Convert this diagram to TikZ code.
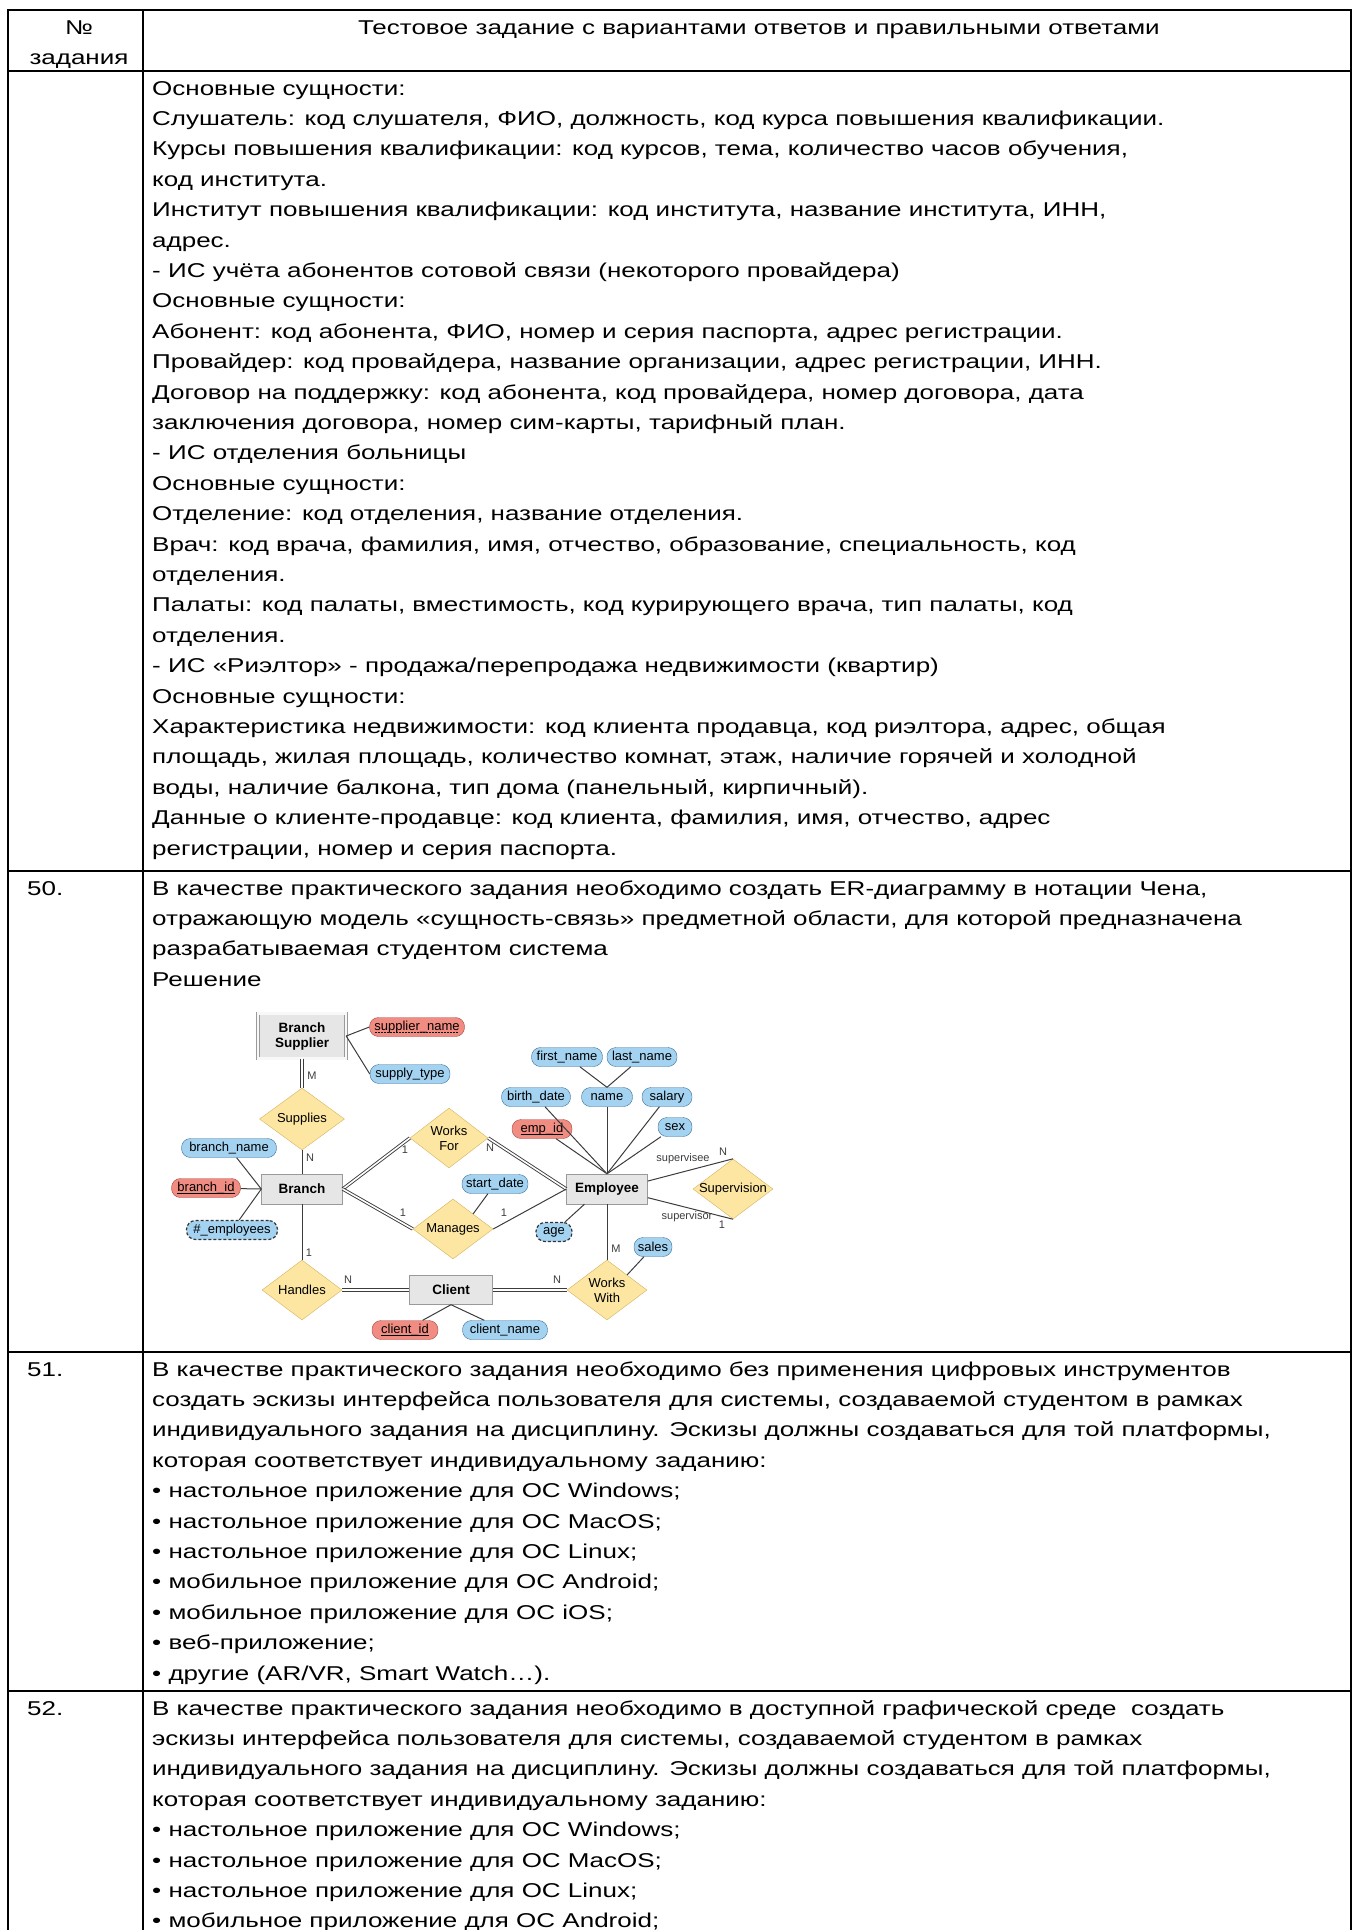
\documentclass[tikz,border=0pt]{standalone}
\usepackage{fontspec}
\setmainfont{Liberation Sans}
\newfontfamily\docfont[FakeStretch=1.30]{Liberation Sans}
\usetikzlibrary{shapes.geometric}
\definecolor{AttrBlue}{HTML}{A4D3F1}
\definecolor{AttrBlueLine}{HTML}{3C6E96}
\definecolor{KeyRed}{HTML}{F08C82}
\definecolor{KeyRedLine}{HTML}{A8473F}
\definecolor{RelYellow}{HTML}{FCE6A2}
\definecolor{RelLine}{HTML}{D6B35E}
\definecolor{EntGray}{HTML}{E6E6E6}
\definecolor{EntLine}{HTML}{9A9A9A}
\definecolor{LinkGray}{HTML}{3C3C3C}
% key underlines
\newcommand\keyul[1]{\setbox0\hbox{#1}\rlap{\raisebox{-2.2pt}{\rule{\wd0}{0.7pt}}}\box0}
\newcommand\partkeyul[1]{\setbox0\hbox{#1}\rlap{\raisebox{-2.2pt}{\leaders\hbox to 3pt{\hss\rule{1.8pt}{0.7pt}\hss}\hskip\wd0}}\box0}

\begin{document}
\begin{tikzpicture}[x=1pt,y=-1pt,
    grid/.style={line width=2pt,black},
    txt/.style={anchor=base west,inner sep=0pt,font=\docfont\fontsize{20}{24}\selectfont},
    entity/.style={draw=EntLine,fill=EntGray,minimum width=81pt,minimum height=30pt,inner sep=1pt,align=center,font=\bfseries\fontsize{13.5}{15}\selectfont},
    weakent/.style={entity,double=white!70!EntGray,double distance=2.5pt,minimum width=88pt,minimum height=45pt},
    attr/.style={draw=AttrBlueLine,fill=AttrBlue,rounded corners=9pt,minimum height=19pt,inner sep=0pt,font=\fontsize{13}{15}\selectfont},
    keyattr/.style={attr,draw=KeyRedLine,fill=KeyRed},
    derived/.style={attr,draw=black!80,line width=1.2pt,dash pattern=on 3pt off 2pt},
    rel/.style={diamond,draw=RelLine,fill=RelYellow,minimum width=80pt,minimum height=60pt,inner sep=0pt},
    reltxt/.style={inner sep=0pt,align=center,font=\fontsize{13}{15}\selectfont},
    link/.style={draw=LinkGray,line width=1pt},
    link2/.style={draw=LinkGray,line width=0.9pt,double=white,double distance=1.6pt},
    card/.style={inner sep=0pt,text=LinkGray,font=\fontsize{11}{13}\selectfont}]
  \useasboundingbox (0,0) rectangle (1357,1930);

  % table frame
  \draw[grid] (8,10) -- (1351,10);
  \foreach \y in {71,871,1352,1691}
    \draw[grid] (8,\y) -- (1351,\y);
  \foreach \x in {8,143,1351}
    \draw[grid] (\x,9) -- (\x,1930);

  % header
  \node[txt,anchor=base] (hnum) at (79,34) {№};
  \node[txt,anchor=base] (hzad) at (79,64) {задания};
  \node[txt,anchor=base east] (htitle) at (1160,34) {Тестовое задание с вариантами ответов и правильными ответами};

  % continuation of task 49
  \foreach \t [count=\i from 0] in {
    {Основные сущности:},
    {Слушатель: код слушателя, ФИО, должность, код курса повышения квалификации.},
    {Курсы повышения квалификации: код курсов, тема, количество часов обучения,},
    {код института.},
    {Институт повышения квалификации: код института, название института, ИНН,},
    {адрес.},
    {- ИС учёта абонентов сотовой связи (некоторого провайдера)},
    {Основные сущности:},
    {Абонент: код абонента, ФИО, номер и серия паспорта, адрес регистрации.},
    {Провайдер: код провайдера, название организации, адрес регистрации, ИНН.},
    {Договор на поддержку: код абонента, код провайдера, номер договора, дата},
    {заключения договора, номер сим-карты, тарифный план.},
    {- ИС отделения больницы},
    {Основные сущности:},
    {Отделение: код отделения, название отделения.},
    {Врач: код врача, фамилия, имя, отчество, образование, специальность, код},
    {отделения.},
    {Палаты: код палаты, вместимость, код курирующего врача, тип палаты, код},
    {отделения.},
    {- ИС «Риэлтор» - продажа/перепродажа недвижимости (квартир)},
    {Основные сущности:},
    {Характеристика недвижимости: код клиента продавца, код риэлтора, адрес, общая},
    {площадь, жилая площадь, количество комнат, этаж, наличие горячей и холодной},
    {воды, наличие балкона, тип дома (панельный, кирпичный).},
    {Данные о клиенте-продавце: код клиента, фамилия, имя, отчество, адрес},
    {регистрации, номер и серия паспорта.}}
    \node[txt] (t49-\i) at (152,{95+30.4*\i}) {\t};

  % task 50
  \node[txt] (n50) at (27,895) {50.};
  \foreach \t [count=\i from 0] in {
    {В качестве практического задания необходимо создать ER-диаграмму в нотации Чена,},
    {отражающую модель «сущность-связь» предметной области, для которой предназначена},
    {разрабатываемая студентом система},
    {Решение}}
    \node[txt] (t50-\i) at (152,{895+30.4*\i}) {\t};

  % ER diagram: entities
  \node[weakent] (bsup) at (302,1036) {Branch\\Supplier};
  \node[entity] (branch) at (302,1189) {Branch};
  \node[entity] (employee) at (607,1189) {Employee};
  \node[entity,minimum width=83pt,minimum height=29pt] (client) at (451,1290) {Client};

  % relationships
  \node[rel,minimum width=85pt,minimum height=62pt,label={[reltxt]center:Supplies}] (supplies) at (302,1119) {};
  \node[rel,minimum width=78pt,label={[reltxt]center:{Works\\For}}] (worksfor) at (449,1138) {};
  \node[rel,label={[reltxt]center:Manages}] (manages) at (453,1229) {};
  \node[rel,label={[reltxt]center:Handles}] (handles) at (302,1290) {};
  \node[rel,label={[reltxt]center:{Works\\With}}] (workswith) at (607,1290) {};
  \node[rel,label={[reltxt]center:Supervision}] (supervision) at (733,1189) {};

  % attributes
  \node[keyattr,minimum width=95pt] (suppliername) at (417,1027) {\partkeyul{supplier\_name}};
  \node[attr,minimum width=80pt] (supplytype) at (410,1074) {supply\_type};
  \node[attr,minimum width=95pt] (branchname) at (229,1148) {branch\_name};
  \node[keyattr,minimum width=69pt] (branchid) at (206,1188) {\keyul{branch\_id}};
  \node[derived,minimum width=91pt] (numemp) at (232,1230) {\#\_employees};
  \node[attr,minimum width=71pt] (firstname) at (567,1057) {first\_name};
  \node[attr,minimum width=70pt] (lastname) at (642,1057) {last\_name};
  \node[attr,minimum width=69pt] (birthdate) at (536,1097) {birth\_date};
  \node[attr,minimum width=51pt] (name) at (607,1097) {name};
  \node[attr,minimum width=50pt] (salary) at (667,1097) {salary};
  \node[keyattr,minimum width=60pt] (empid) at (542,1129) {\keyul{emp\_id}};
  \node[attr,minimum width=34pt] (sex) at (675,1127) {sex};
  \node[attr,minimum width=66pt] (startdate) at (495,1184) {start\_date};
  \node[derived,minimum width=36pt] (age) at (554,1232) {age};
  \node[attr,minimum width=38pt] (sales) at (653,1247) {sales};
  \node[keyattr,minimum width=66pt] (clientid) at (405,1330) {\keyul{client\_id}};
  \node[attr,minimum width=85pt] (clientname) at (505,1330) {client\_name};

  % connectors
  \draw[link] (bsup.east) -- (suppliername.west);
  \draw[link] (bsup.east) -- (supplytype.west);
  \draw[link2] (bsup.south) -- (supplies.north);
  \draw[link] (supplies.south) -- (branch.north);
  \foreach \a in {branchname,branchid,numemp}
    \draw[link] (\a) -- (branch.west);
  \draw[link2] (branch.east) -- (worksfor.west);
  \draw[link2] (branch.east) -- (manages.west);
  \draw[link2] (worksfor.east) -- (employee.west);
  \draw[link] (manages.east) -- (employee.west);
  \draw[link] (startdate) -- (manages.north east);
  \foreach \a in {firstname,lastname}
    \draw[link] (\a) -- (name.north);
  \foreach \a in {birthdate,name,salary,empid,sex}
    \draw[link] (\a) -- (employee.north);
  \draw[link] (age) -- (employee.214);
  \draw[link] (employee.south) -- (workswith.north);
  \draw[link] (sales) -- (workswith.north east);
  \draw[link] (employee.11) -- (supervision.north);
  \draw[link] (employee.-12) -- (supervision.south);
  \draw[link] (branch.south) -- (handles.north);
  \draw[link2] (handles.east) -- (client.west);
  \draw[link2] (client.east) -- (workswith.west);
  \draw[link] (client.south) -- (clientid);
  \draw[link] (client.south) -- (clientname);

  % cardinalities
  \node[card] (c-bs) at (312,1076) {M};
  \node[card] (c-br) at (310,1158) {N};
  \node[card] (c-wf1) at (405,1150) {1};
  \node[card] (c-wf2) at (490,1148) {N};
  \node[card] (c-mg1) at (403,1213) {1};
  \node[card] (c-mg2) at (504,1213) {1};
  \node[card] (c-ho1) at (309,1253) {1};
  \node[card] (c-ho2) at (348,1280) {N};
  \node[card] (c-ww1) at (557,1280) {N};
  \node[card] (c-ww2) at (616,1249) {M};
  \node[card] (c-sv1) at (683,1159) {supervisee};
  \node[card] (c-sv2) at (723,1152) {N};
  \node[card] (c-sv3) at (687,1217) {supervisor};
  \node[card] (c-sv4) at (722,1225) {1};

  % task 51
  \node[txt] (n51) at (27,1376) {51.};
  \foreach \t [count=\i from 0] in {
    {В качестве практического задания необходимо без применения цифровых инструментов},
    {создать эскизы интерфейса пользователя для системы, создаваемой студентом в рамках},
    {индивидуального задания на дисциплину. Эскизы должны создаваться для той платформы,},
    {которая соответствует индивидуальному заданию:},
    {• настольное приложение для ОС Windows;},
    {• настольное приложение для ОС MacOS;},
    {• настольное приложение для ОС Linux;},
    {• мобильное приложение для ОС Android;},
    {• мобильное приложение для ОС iOS;},
    {• веб-приложение;},
    {• другие (AR/VR, Smart Watch…).}}
    \node[txt] (t51-\i) at (152,{1376+30.4*\i}) {\t};

  % task 52
  \node[txt] (n52) at (27,1715) {52.};
  \foreach \t [count=\i from 0] in {
    {В качестве практического задания необходимо в доступной графической среде~ создать},
    {эскизы интерфейса пользователя для системы, создаваемой студентом в рамках},
    {индивидуального задания на дисциплину. Эскизы должны создаваться для той платформы,},
    {которая соответствует индивидуальному заданию:},
    {• настольное приложение для ОС Windows;},
    {• настольное приложение для ОС MacOS;},
    {• настольное приложение для ОС Linux;},
    {• мобильное приложение для ОС Android;}}
    \node[txt] (t52-\i) at (152,{1715+30.4*\i}) {\t};
\end{tikzpicture}
\end{document}
